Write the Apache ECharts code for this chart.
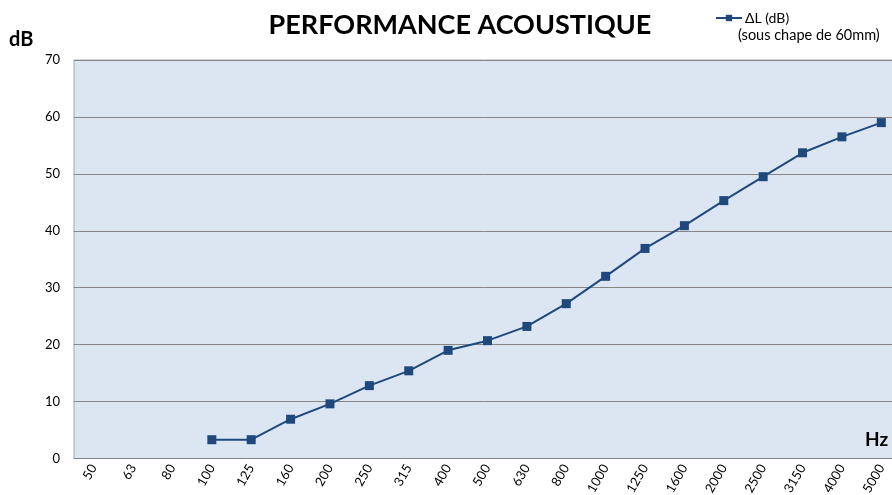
<!DOCTYPE html>
<html>
<head>
<meta charset="utf-8">
<script src="https://cdn.jsdelivr.net/npm/echarts@6/dist/echarts.min.js"></script>
<style>html,body{margin:0;padding:0;background:#fff}#c{width:892px;height:495px}</style>
</head>
<body>
<div id="c"></div>
<script>
const categories = ['50','63','80','100','125','160','200','250','315','400','500','630','800','1000','1250','1600','2000','2500','3150','4000','5000'];
const deltaL = [null,null,null,3.3,3.3,6.9,9.6,12.8,15.4,19.0,20.7,23.2,27.2,32.0,36.9,40.9,45.3,49.5,53.7,56.5,59.0];
const yTicks = {min:0, max:70, interval:10};
const seriesName = 'ΔL (dB)';
const seriesNote = '(sous chape de 60mm)';
const titleText = 'PERFORMANCE ACOUSTIQUE';

const chart = echarts.init(document.getElementById('c'), null, {renderer:'canvas'});
const font = 'Lato, "Open Sans", sans-serif';
chart.setOption({
  animation:false,
  backgroundColor:'#ffffff',
  title:{text:titleText,left:455,top:7,textAlign:'center',
    textStyle:{fontFamily:font,fontWeight:'bold',fontSize:27,color:'#000'}},
  legend:{data:[seriesName],left:710,top:6,itemWidth:26,itemHeight:8,itemGap:0,
    textStyle:{fontFamily:font,fontSize:14,color:'#000',padding:[0,0,0,-2]}},
  graphic:[
    {type:'text',left:738,top:28,style:{text:seriesNote,font:'14.5px '+font,fill:'#000'}},
    {type:'text',left:9,top:30,style:{text:'dB',font:'bold 20px '+font,fill:'#000'}},
    {type:'text',left:865,top:430,style:{text:'Hz',font:'bold 19px '+font,fill:'#000'}}
  ],
  grid:{left:74,top:60,width:827,bottom:36.5,outerBoundsMode:'none',containLabel:false,show:true,backgroundColor:'#DCE6F2',borderColor:'#A6A6A6',borderWidth:1},
  xAxis:{type:'category',data:categories,boundaryGap:true,
    axisLine:{lineStyle:{color:'#868686',width:1}},axisTick:{show:false},
    axisLabel:{rotate:60,fontFamily:font,fontSize:13,color:'#000',margin:7,interval:0}},
  yAxis:{type:'value',min:yTicks.min,max:yTicks.max,interval:yTicks.interval,
    axisLine:{show:false},axisTick:{show:false},
    axisLabel:{fontFamily:font,fontSize:13,color:'#000',margin:14},
    splitLine:{lineStyle:{color:'#868686',width:1}}},
  series:[{name:seriesName,type:'line',data:deltaL,connectNulls:false,
    symbol:'rect',symbolSize:9,
    lineStyle:{color:'#1F497D',width:2},itemStyle:{color:'#1F497D'}}]
});
</script>
</body>
</html>
